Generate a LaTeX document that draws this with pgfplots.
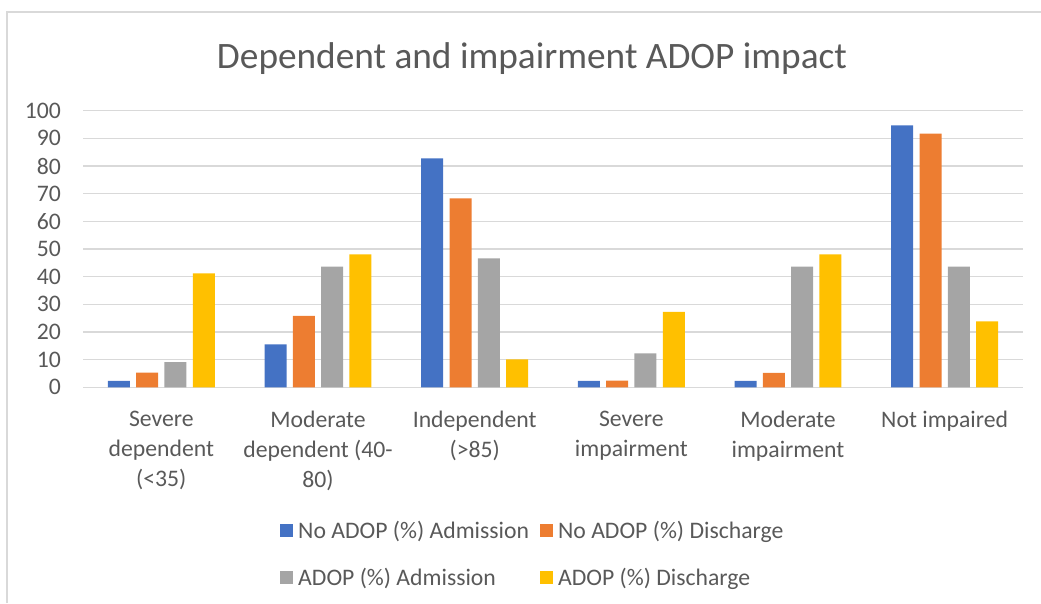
\documentclass[border=0pt]{standalone}
\usepackage{pgfplots}
\pgfplotsset{compat=1.18}
\usepackage{fontspec}
\setmainfont{Carlito}
\definecolor{cblue}{HTML}{4472C4}
\definecolor{corange}{HTML}{ED7D31}
\definecolor{cgray}{HTML}{A5A5A5}
\definecolor{cyellow}{HTML}{FFC000}
\definecolor{cgrid}{HTML}{D9D9D9}
\definecolor{ctext}{HTML}{595959}
\begin{document}
\begin{tikzpicture}[x=1pt,y=1pt]
\draw[cgrid,line width=1.5pt] (7,-603) -- (7,-12) -- (1041,-12);
\node[anchor=base,text=ctext,font=\fontsize{37.3}{44}\selectfont] at (532,-68) {Dependent and impairment ADOP impact};
\begin{axis}[
  at={(83pt,-387.3pt)}, anchor=south west,
  scale only axis, width=940pt, height=276.6pt,
  xmin=-0.5, xmax=5.5, ymin=0, ymax=100,
  ybar, bar width=22pt, ybar=6.3pt,
  axis line style={draw=none},
  axis x line*=bottom,
  xtick={0,1,2,3,4,5},
  xticklabels={Severe\\dependent\\(<35), Moderate\\dependent (40-\\80), Independent\\(>85), Severe\\impairment, Moderate\\impairment, Not impaired},
  ytick={0,10,...,100},
  major tick length=0pt,
  ymajorgrids, grid style={cgrid, line width=1.3pt},
  tick label style={text=ctext, font=\fontsize{23.7}{30}\selectfont},
  /pgf/number format/assume math mode=true,
  yticklabel style={inner sep=0pt, xshift=-22pt},
  xticklabel style={align=center, inner sep=0pt, anchor=north, yshift=-24pt},
  legend columns=2,
  legend style={draw=none, fill=none, at={(0.2096,-0.484)}, anchor=north west,
     inner sep=0pt, font=\fontsize{23.7}{30}\selectfont, text=ctext,
     /tikz/every even column/.style={column sep=11pt},
     row sep=28pt,
     nodes={inner sep=0pt, anchor=west}},
  clip=false,
]
\addplot[fill=cblue, draw=none, legend image code/.code={\fill[cblue] (0pt,-6.5pt) rectangle (13pt,6.5pt); \path (18pt,0pt);}] coordinates {(0,2.3) (1,15.5) (2,82.8) (3,2.3) (4,2.3) (5,94.7)};
\addplot[fill=corange, draw=none, legend image code/.code={\fill[corange] (0pt,-6.5pt) rectangle (13pt,6.5pt); \path (18pt,0pt);}] coordinates {(0,5.3) (1,25.8) (2,68.3) (3,2.4) (4,5.2) (5,91.7)};
\addplot[fill=cgray, draw=none, legend image code/.code={\fill[cgray] (0pt,-6.5pt) rectangle (13pt,6.5pt); \path (18pt,0pt);}] coordinates {(0,9.1) (1,43.6) (2,46.6) (3,12.3) (4,43.6) (5,43.6)};
\addplot[fill=cyellow, draw=none, legend image code/.code={\fill[cyellow] (0pt,-6.5pt) rectangle (13pt,6.5pt); \path (18pt,0pt);}] coordinates {(0,41.2) (1,48.1) (2,10.1) (3,27.3) (4,48.1) (5,23.8)};
\legend{No ADOP (\%) Admission, No ADOP (\%) Discharge, ADOP (\%) Admission, ADOP (\%) Discharge}
\end{axis}
\pgfresetboundingbox
\path (0,0) rectangle (1041,-603);
\end{tikzpicture}
\end{document}
